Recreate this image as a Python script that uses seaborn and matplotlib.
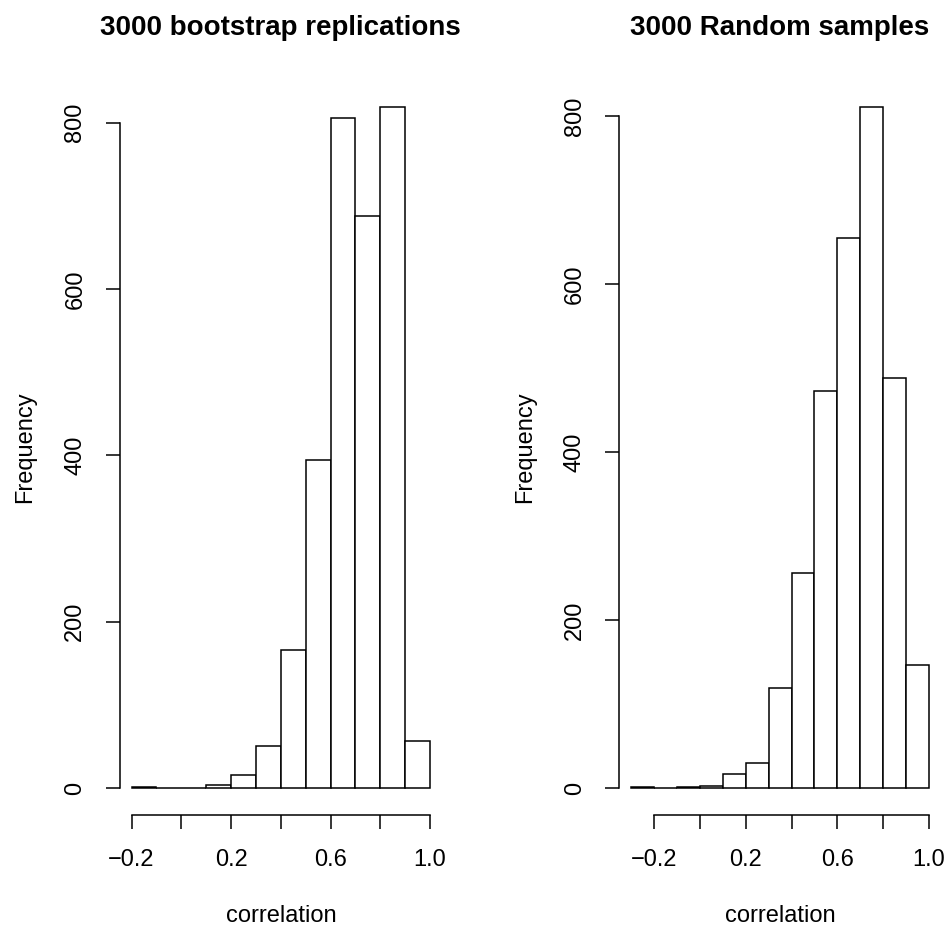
import numpy as np
import pandas as pd
import matplotlib
matplotlib.use("Agg")
from matplotlib import pyplot as plt
import seaborn as sns

# bin edges and counts
boot_edges = [-0.2, -0.1, 0.0, 0.1, 0.2, 0.3, 0.4, 0.5, 0.6, 0.7, 0.8, 0.9, 1.0]
boot_counts = [1, 0, 0, 4, 15, 51, 166, 394, 806, 688, 819, 56]

rand_edges = [-0.3, -0.2, -0.1, 0.0, 0.1, 0.2, 0.3, 0.4, 0.5, 0.6, 0.7, 0.8, 0.9, 1.0]
rand_counts = [1, 0, 1, 2, 17, 30, 119, 256, 473, 655, 811, 488, 147]

titles = ["3000 bootstrap replications", "3000 Random samples"]
x_ticks = [-0.2, 0.0, 0.2, 0.4, 0.6, 0.8, 1.0]
x_labels = ["\u22120.2", "", "0.2", "", "0.6", "", "1.0"]
y_ticks = [0, 200, 400, 600, 800]

sns.set_style("white")
plt.rcParams['font.family'] = ['Liberation Sans', 'DejaVu Sans']
plt.rcParams['text.color'] = 'black'
plt.rcParams['axes.labelcolor'] = 'black'
plt.rcParams['xtick.color'] = 'black'
plt.rcParams['ytick.color'] = 'black'

fig = plt.figure(figsize=(9.51, 9.34), dpi=100)
ax1 = fig.add_axes([0.1258, 0.1272, 0.339, 0.7875])
ax2 = fig.add_axes([0.6511, 0.1272, 0.3383, 0.7875])

panels = [(ax1, boot_edges, boot_counts, titles[0]),
          (ax2, rand_edges, rand_counts, titles[1])]

for ax, edges, counts, title in panels:
    e = np.array(edges)
    mids = (e[:-1] + e[1:]) / 2
    df = pd.DataFrame({"mid": mids, "n": counts})
    sns.histplot(data=df, x="mid", weights="n", bins=list(edges), ax=ax,
                 color="white", edgecolor="black", linewidth=1.1, alpha=1)
    lo, hi = edges[0], edges[-1]
    pad = (hi - lo) * 0.04
    ax.set_xlim(lo - pad, hi + pad)
    top = max(counts)
    ax.set_ylim(-top * 0.04, top * 1.04)

    for s in ["top", "right"]:
        ax.spines[s].set_visible(False)
    ax.spines["left"].set_bounds(0, 800)
    ax.spines["bottom"].set_bounds(-0.2, 1.0)
    for s in ["left", "bottom"]:
        ax.spines[s].set_linewidth(1.1)
        ax.spines[s].set_color("black")

    ax.set_xticks(x_ticks)
    ax.set_xticklabels(x_labels)
    ax.set_yticks(y_ticks)
    ax.set_yticklabels([str(v) for v in y_ticks], rotation=90, va="center")
    ax.tick_params(axis="both", direction="out", length=10, width=1.1,
                   color="black", labelcolor="black", labelsize=17, pad=14,
                   left=True, bottom=True)

    ax.set_xlabel("correlation", fontsize=17, labelpad=25, color="black")
    ax.set_ylabel("Frequency", fontsize=17, labelpad=20, color="black")
    ax.set_title(title, fontsize=20, fontweight="bold", pad=32, color="black")

fig.savefig("out.png", dpi=100)
